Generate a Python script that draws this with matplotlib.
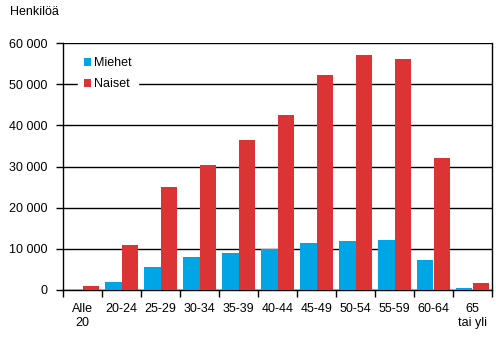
import matplotlib.pyplot as plt
import numpy as np
from matplotlib.ticker import FuncFormatter

plt.rcParams['font.family'] = ['Liberation Sans', 'DejaVu Sans']

age_groups = ['Alle\n20', '20-24', '25-29', '30-34', '35-39', '40-44',
              '45-49', '50-54', '55-59', '60-64', '65\ntai yli']
miehet = [0, 2000, 5600, 8000, 9000, 9900, 11400, 11900, 12100, 7300, 560]
naiset = [1000, 10900, 25000, 30300, 36400, 42500, 52200, 57100, 56100, 32000, 1800]

blue = '#00a5e6'
red = '#dc3335'

fig = plt.figure(figsize=(4.96, 3.61), dpi=100)
ax = fig.add_axes([63 / 496, 1 - 290 / 361, (492 - 63) / 496, (290 - 43) / 361])

x = np.arange(len(age_groups))
w = 0.42
ax.bar(x - w / 2, miehet, width=w, color=blue, label='Miehet', zorder=3)
ax.bar(x + w / 2, naiset, width=w, color=red, label='Naiset', zorder=3)

ax.set_xlim(-0.5, len(age_groups) - 0.5)
ax.set_ylim(0, 60000)
ax.set_yticks(range(0, 60001, 10000))
ax.yaxis.set_major_formatter(FuncFormatter(lambda v, p: format(int(v), ',').replace(',', ' ')))
ax.grid(axis='y', color='black', linewidth=1, zorder=0)

# category boundaries get the ticks, labels sit in the middle
ax.set_xticks(np.arange(-0.5, len(age_groups), 1))
ax.set_xticklabels([])
ax.set_xticks(x, minor=True)
ax.set_xticklabels(age_groups, minor=True, fontsize=9, linespacing=1.25)
ax.tick_params(axis='x', which='major', length=5, width=1, direction='out')
ax.tick_params(axis='x', which='minor', length=0, pad=9)
ax.tick_params(axis='y', length=5, width=1, labelsize=9, pad=6.5)

for s in ax.spines.values():
    s.set_linewidth(1)
    s.set_color('black')
ax.spines['top'].set_visible(False)

leg = ax.legend(loc='upper left', bbox_to_anchor=(0.035, 0.965), frameon=True,
                fontsize=9, handlelength=0.6, handleheight=0.6,
                handletextpad=0.25, labelspacing=0.7, borderpad=0.45,
                borderaxespad=0)
leg.get_frame().set_edgecolor('white')
leg.get_frame().set_facecolor('white')
leg.get_frame().set_alpha(1)
leg.get_frame().set_boxstyle('square', pad=0)

fig.text(10 / 496, 1 - 12 / 361, 'Henkilöä', fontsize=9, va='center', ha='left')

fig.savefig('out.png', dpi=100)
